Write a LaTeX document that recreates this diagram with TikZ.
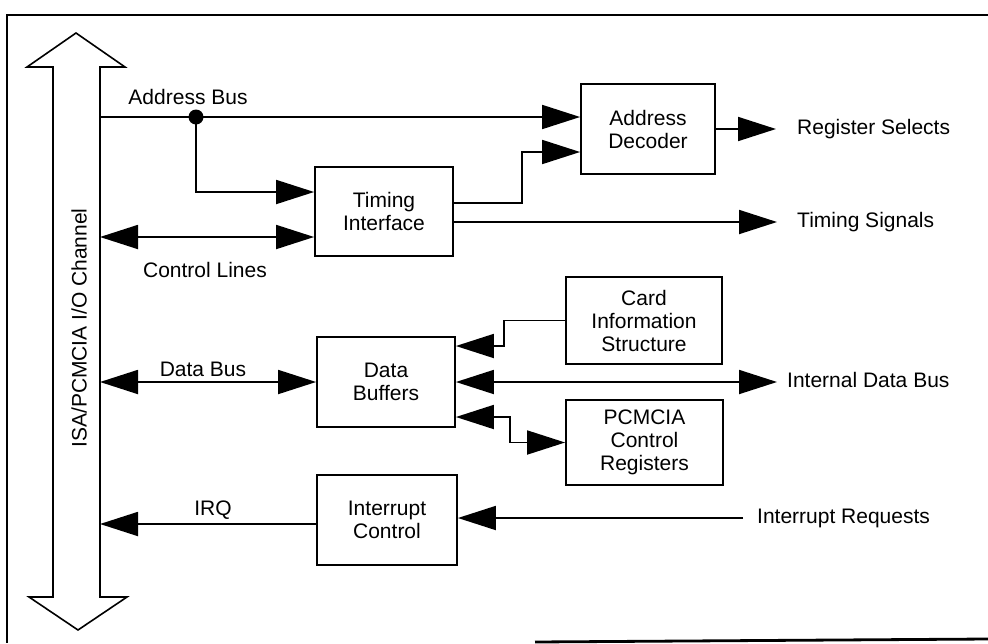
\documentclass[tikz,border=0pt]{standalone}
\usepackage{fontspec}
\setmainfont{Liberation Sans}
\usetikzlibrary{arrows.meta}
\tikzset{
  blk/.style={draw,line width=1.8pt,align=center,inner sep=0pt,font=\fontsize{21}{23}\selectfont},
  lbl/.style={font=\fontsize{21}{23}\selectfont,inner sep=0pt},
  conn/.style={line width=1.8pt},
  arr/.style={conn,-{Triangle[length=38pt,width=24pt]}},
  dbl/.style={conn,{Triangle[length=38pt,width=24pt]}-{Triangle[length=38pt,width=24pt]}},
}
\begin{document}
\begin{tikzpicture}[x=1pt,y=-1pt]
\useasboundingbox (0,0) rectangle (988,643);
% frame
\draw[line width=2.8pt] (988,15) -- (7,15) -- (7,643);
\draw[line width=2.8pt] (535,642) -- (988,639);
% big bus arrow
\draw[line width=1.6pt,line join=miter] (76,33) -- (125,67) -- (100,67) -- (100,597) -- (127,597) -- (78,630) -- (29,597) -- (53,597) -- (53,67) -- (27,67) -- cycle;
\node[lbl,rotate=90] (chan) at (79,328) {ISA/PCMCIA I/O Channel};
% blocks
\node[blk,minimum width=134pt,minimum height=90pt] (dec) at (648,129) {Address\\Decoder};
\node[blk,minimum width=138pt,minimum height=89pt] (tim) at (384,211.5) {Timing\\Interface};
\node[blk,minimum width=138pt,minimum height=90pt] (buf) at (386,382) {Data\\Buffers};
\node[blk,minimum width=156pt,minimum height=87pt] (cis) at (644,320.5) {Card\\Information\\Structure};
\node[blk,minimum width=157pt,minimum height=85pt] (pcr) at (644.5,442.5) {PCMCIA\\Control\\Registers};
\node[blk,minimum width=140pt,minimum height=90pt] (int) at (387,520) {Interrupt\\Control};
% bus-side coordinates
\coordinate (aB) at (100,117);
\coordinate (dot) at (196,117);
\coordinate (ctl) at (100,237);
\coordinate (dbus) at (100,382);
\coordinate (irqB) at (100,524);
\coordinate (reg) at (776,129);
\coordinate (ts) at (777,222);
\coordinate (idb) at (777,382);
\coordinate (ireq) at (743,518);
% connectors
\draw[arr] (aB) -- (dec.west |- aB);
\fill (dot) circle (7.5);
\draw[arr] (dot) |- ([yshift=19.5pt]tim.west);
\draw[dbl] (ctl) -- (tim.west |- ctl);
\draw[arr] ([yshift=8.5pt]tim.east) -- ++(68,0) |- ([yshift=-23pt]dec.west);
\draw[arr] ([yshift=-10.5pt]tim.east) -- (ts);
\draw[arr] (dec.east) -- (reg);
\draw[dbl] (dbus) -- (buf.west);
\draw[arr] (cis.west) -- ++(-61,0) |- ([yshift=36pt]buf.east);
\draw[dbl] (buf.east) -- (idb);
\draw[dbl] ([yshift=-35pt]buf.east) -- ++(54,0) |- (pcr.west);
\draw[arr] ([yshift=-4pt]int.west) -- (irqB);
\draw[arr] (ireq) -- (int.east |- ireq);
% labels
\node[lbl] (lab) at (188,97) {Address Bus};
\node[lbl] (lcl) at (205,270) {Control Lines};
\node[lbl] (ldb) at (203,369) {Data Bus};
\node[lbl] (lirq) at (213,510) {IRQ};
\node[lbl,anchor=west] (lrs) at (797,129) {Register Selects};
\node[lbl,anchor=west] (lts) at (797,222) {Timing Signals};
\node[lbl,anchor=west] (lidb) at (787,380) {Internal Data Bus};
\node[lbl,anchor=west] (lir) at (757,518) {Interrupt Requests};
\end{tikzpicture}
\end{document}
